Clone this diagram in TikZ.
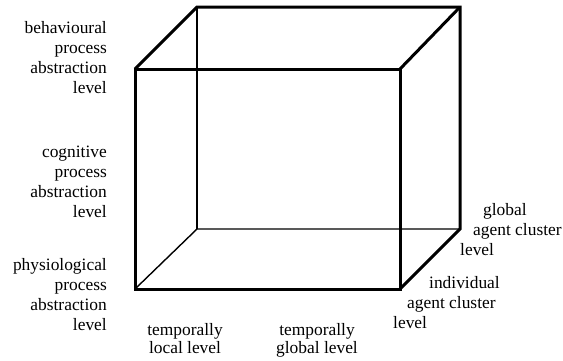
\documentclass[tikz,border=0pt]{standalone}
\usepackage{fontspec}
\setmainfont{Liberation Serif}
\usepackage{tikz}
\usetikzlibrary{positioning, calc}
\tikzset{
  edge/.style={line width=3pt, color=black, line join=miter},
  hidden/.style={line width=1.4pt, color=black},
  lbl/.style={font=\fontsize{17.4}{20}\selectfont, inner sep=0pt}
}

\begin{document}
\begin{tikzpicture}[x=1pt, y=-1pt]
  \useasboundingbox (0,0) rectangle (563,360);

  % Front face
  \coordinate (ftl) at (135,69);
  \coordinate (ftr) at (400,69);
  \coordinate (fbr) at (400,289);
  \coordinate (fbl) at (135,289);
  % Back face
  \coordinate (btl) at (197,7);
  \coordinate (btr) at (460,7);
  \coordinate (bbr) at (460,229);
  \coordinate (bbl) at (197,229);

  % Hidden edges
  \draw[hidden] (fbl) -- (bbl) -- (bbr);
  \draw[hidden] (bbl) -- (btl);

  % Visible edges
  \draw[edge] (ftl) -- (ftr) -- (fbr) -- (fbl) -- cycle;
  \draw[edge] (ftl) -- (btl) -- (btr) -- (bbr) -- (fbr);
  \draw[edge] (ftr) -- (btr);

  % Abstraction levels (anchored on the last line)
  \node[lbl, align=right, anchor=base east] (behav) at (107,93) {behavioural\\process\\abstraction\\level};
  \node[lbl, align=right, anchor=base east] (cogn) at (107,217) {cognitive\\process\\abstraction\\level};
  \node[lbl, align=right, anchor=base east] (physio) at (107,330) {physiological\\process\\abstraction\\level};

  % Temporal levels
  \node[lbl, align=center, anchor=base] (tlocal) at (185,353) {temporally\\[-2pt]local level};
  \node[lbl, align=center, anchor=base] (tglobal) at (317,353) {temporally\\[-2pt]global level};

  % Agent cluster levels
  \node[lbl, align=left, anchor=base west] (aglobal) at (460,255) {\hspace*{23pt}global\\\hspace*{13pt}agent cluster\\level};
  \node[lbl, align=left, anchor=base west] (aindiv) at (393,328) {\hspace*{36pt}individual\\\hspace*{14pt}agent cluster\\level};
\end{tikzpicture}
\end{document}
